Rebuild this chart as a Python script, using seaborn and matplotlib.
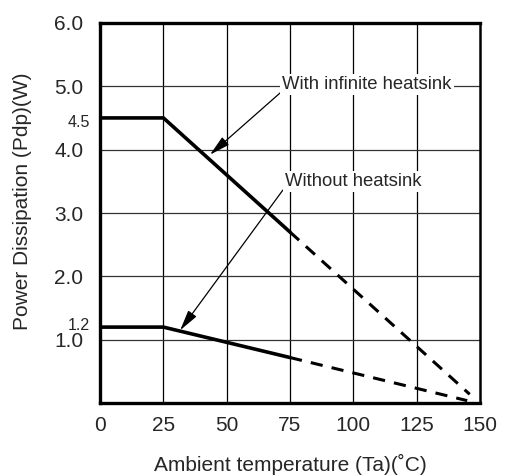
import seaborn as sns
import matplotlib.pyplot as plt
import pandas as pd

# derating curves
temp_solid = [0, 25, 75]
inf_solid = [4.5, 4.5, 2.7]
no_solid = [1.2, 1.2, 0.72]
temp_dash = [75, 146]
inf_dash = [2.7, 0.14]
temp_dash2 = [75, 145]
no_dash = [0.72, 0.04]

xticks = [0, 25, 50, 75, 100, 125, 150]
yticks = [1, 2, 3, 4, 5, 6]
yticklabels = ['1.0', '2.0', '3.0', '4.0', '5.0', '6.0']

sns.set_style('white')
plt.rcParams['font.family'] = ['Liberation Sans', 'DejaVu Sans']

fig, ax = plt.subplots(figsize=(5.11, 4.76), dpi=100)
fig.subplots_adjust(left=0.196, right=0.939, top=0.952, bottom=0.153)

# grid
for x in xticks[1:-1]:
    ax.axvline(x, color='black', lw=0.9, zorder=1)
for y in yticks[:-1]:
    ax.axhline(y, color='#333333', lw=0.9, zorder=1)

solid = pd.DataFrame({'t': temp_solid, 'inf': inf_solid, 'no': no_solid})
sns.lineplot(data=solid, x='t', y='inf', color='black', lw=2.6, ax=ax, zorder=3)
sns.lineplot(data=solid, x='t', y='no', color='black', lw=2.6, ax=ax, zorder=3)
sns.lineplot(x=temp_dash, y=inf_dash, color='black', lw=2.2, ax=ax,
             linestyle=(0, (4, 3)), zorder=3)
sns.lineplot(x=temp_dash2, y=no_dash, color='black', lw=2.2, ax=ax,
             linestyle=(0, (4, 3)), zorder=3)

box = dict(facecolor='white', edgecolor='none', pad=1.5)
arrow = dict(arrowstyle='-|>,head_length=0.9,head_width=0.22', color='black',
             lw=0.9, mutation_scale=14, shrinkA=0, shrinkB=0, relpos=(0, 0.15))
ax.annotate('With infinite heatsink', xy=(43.4, 3.92), xytext=(72, 5.02),
            fontsize=13.3, va='center', ha='left', bbox=box, zorder=4,
            arrowprops=arrow)
ax.annotate('Without heatsink', xy=(31.6, 1.15), xytext=(73, 3.5),
            fontsize=13.3, va='center', ha='left', bbox=box, zorder=4,
            arrowprops=arrow)

ax.set_xlim(0, 150)
ax.set_ylim(0, 6)
ax.set_xticks(xticks)
ax.set_xticklabels([str(v) for v in xticks], fontsize=15)
ax.set_yticks(yticks)
ax.set_yticklabels(yticklabels, fontsize=15)
ax.tick_params(axis='x', length=0, pad=9)
ax.tick_params(axis='y', length=0, pad=12)
ax.text(-4, 4.43, '4.5', fontsize=11.5, ha='right', va='center')
ax.text(-4, 1.22, '1.2', fontsize=11.5, ha='right', va='center')

ax.set_xlabel('Ambient temperature (Ta)(˚C)', fontsize=15, labelpad=14)
ax.set_ylabel('Power Dissipation (Pdp)(W)', fontsize=15)
ax.yaxis.set_label_coords(-0.18, 0.53)

for side in ['left', 'bottom', 'top']:
    ax.spines[side].set_linewidth(2.4)
ax.spines['right'].set_linewidth(1.8)
for s in ax.spines.values():
    s.set_color('black')
    s.set_zorder(5)

fig.savefig('out.png', dpi=100)
